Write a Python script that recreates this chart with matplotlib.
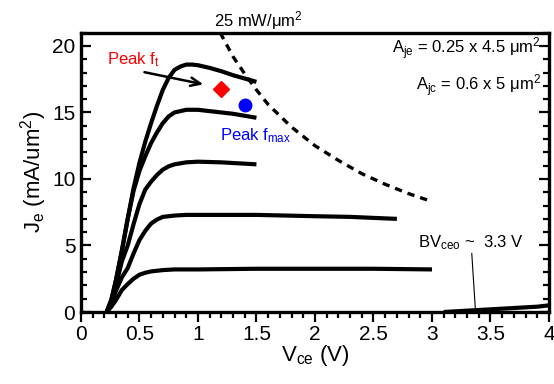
import matplotlib
matplotlib.use("Agg")
import matplotlib.pyplot as plt
from matplotlib.ticker import MultipleLocator

plt.rcParams['font.family'] = ['Liberation Sans', 'DejaVu Sans']
plt.rcParams['mathtext.fontset'] = 'custom'
plt.rcParams['mathtext.rm'] = 'Liberation Sans'
plt.rcParams['mathtext.it'] = 'Liberation Sans'

# Je-Vce curves
v1 = [0.22, 0.26, 0.30, 0.35, 0.40, 0.45, 0.50, 0.55, 0.60, 0.65, 0.70, 0.75, 0.80, 0.85, 0.90, 0.95, 1.00, 1.10, 1.20, 1.30, 1.40, 1.50]
j1 = [0.0, 0.9, 2.4, 4.6, 7.0, 9.3, 11.2, 12.8, 14.2, 15.5, 16.7, 17.6, 18.2, 18.45, 18.6, 18.6, 18.55, 18.35, 18.1, 17.8, 17.55, 17.3]

v2 = [0.22, 0.26, 0.30, 0.35, 0.40, 0.45, 0.50, 0.55, 0.60, 0.65, 0.70, 0.75, 0.80, 0.85, 0.90, 1.00, 1.10, 1.20, 1.30, 1.40, 1.50]
j2 = [0.0, 0.9, 2.4, 4.6, 7.0, 9.1, 10.6, 11.7, 12.7, 13.5, 14.2, 14.7, 15.0, 15.1, 15.2, 15.2, 15.1, 15.0, 14.9, 14.75, 14.6]

v3 = [0.22, 0.26, 0.30, 0.35, 0.40, 0.45, 0.50, 0.55, 0.60, 0.65, 0.70, 0.75, 0.80, 0.90, 1.00, 1.20, 1.50]
j3 = [0.0, 0.8, 2.0, 3.8, 5.0, 6.6, 8.1, 9.2, 9.8, 10.3, 10.7, 10.95, 11.1, 11.25, 11.3, 11.25, 11.1]

v4 = [0.22, 0.26, 0.30, 0.35, 0.40, 0.45, 0.50, 0.55, 0.60, 0.65, 0.70, 0.80, 0.90, 1.00, 1.50, 2.00, 2.30, 2.70]
j4 = [0.0, 0.6, 1.6, 2.6, 3.3, 4.4, 5.4, 6.1, 6.65, 6.95, 7.15, 7.25, 7.3, 7.3, 7.3, 7.2, 7.15, 7.0]

v5 = [0.22, 0.26, 0.30, 0.35, 0.40, 0.45, 0.50, 0.55, 0.60, 0.70, 0.80, 1.00, 1.50, 2.00, 2.50, 3.00]
j5 = [0.0, 0.4, 0.9, 1.65, 2.1, 2.5, 2.8, 2.95, 3.05, 3.15, 3.2, 3.2, 3.25, 3.25, 3.25, 3.2]

v_bd = [3.10, 3.30, 3.50, 3.70, 3.90, 4.00]
j_bd = [0.0, 0.1, 0.2, 0.3, 0.4, 0.5]

# 25 mW/um^2 power contour
v_pw = [1.19, 1.30, 1.40, 1.50, 1.60, 1.80, 2.00, 2.20, 2.40, 2.60, 2.80, 3.00]
j_pw = [21.0, 19.2, 17.9, 16.7, 15.6, 13.9, 12.5, 11.4, 10.4, 9.6, 8.9, 8.3]

peak_ft = (1.196, 16.74)
peak_fmax = (1.40, 15.56)

fig = plt.figure(figsize=(5.54, 3.84), dpi=100)
ax = fig.add_axes([0.146, 0.1875, 0.845, 0.7275])

for v, j in [(v1, j1), (v2, j2), (v3, j3), (v4, j4), (v5, j5), (v_bd, j_bd)]:
    ax.plot(v, j, color='black', lw=3, solid_capstyle='butt', solid_joinstyle='round')

ax.plot(v_pw, j_pw, color='black', lw=2.4, dashes=(2.2, 1.8), clip_on=False)

ax.plot(*peak_ft, marker='D', color='red', ms=8, ls='none')
ax.plot(*peak_fmax, marker='o', color='blue', ms=9, ls='none')

ax.annotate('', xy=(1.07, 17.07), xytext=(0.52, 18.07),
            arrowprops=dict(arrowstyle='->,head_length=0.7,head_width=0.3', lw=1.8, color='black'))

ax.text(0.22, 18.6, 'Peak f$_t$', color='red', fontsize=12)
ax.text(1.19, 12.9, 'Peak f$_{max}$', color='blue', fontsize=12)
ax.text(1.14, 21.5, '25 mW/μm$^2$', fontsize=12)
ax.text(3.93, 19.4, 'A$_{je}$ = 0.25 x 4.5 μm$^2$', fontsize=12, ha='right')
ax.text(3.93, 16.6, 'A$_{jc}$ = 0.6 x 5 μm$^2$', fontsize=12, ha='right')
ax.text(2.88, 4.9, 'BV$_{ceo}$ ~  3.3 V', fontsize=12)
ax.plot([3.34, 3.37], [4.4, 0.3], color='black', lw=0.8)

ax.set_xlim(0, 4)
ax.set_ylim(0, 21)
ax.xaxis.set_major_locator(MultipleLocator(0.5))
ax.xaxis.set_minor_locator(MultipleLocator(0.1))
ax.yaxis.set_major_locator(MultipleLocator(5))
ax.yaxis.set_minor_locator(MultipleLocator(1))
ax.set_xticks([0, 0.5, 1, 1.5, 2, 2.5, 3, 3.5, 4])
ax.set_xticklabels(['0', '0.5', '1', '1.5', '2', '2.5', '3', '3.5', '4'])

for s in ax.spines.values():
    s.set_linewidth(2.4)
ax.tick_params(axis='x', which='major', direction='out', length=7, width=1.6, labelsize=15, pad=2)
ax.tick_params(axis='x', which='minor', direction='out', length=4, width=1.6)
ax.tick_params(axis='y', which='major', direction='in', length=7, width=1.6, labelsize=15,
               right=True, pad=4)
ax.tick_params(axis='y', which='minor', direction='in', length=4, width=1.6, right=True)

ax.set_xlabel('V$_{ce}$ (V)', fontsize=16, labelpad=0)
ax.set_ylabel('J$_e$ (mA/um$^2$)', fontsize=16, labelpad=2)

fig.savefig('out.png', dpi=100)
